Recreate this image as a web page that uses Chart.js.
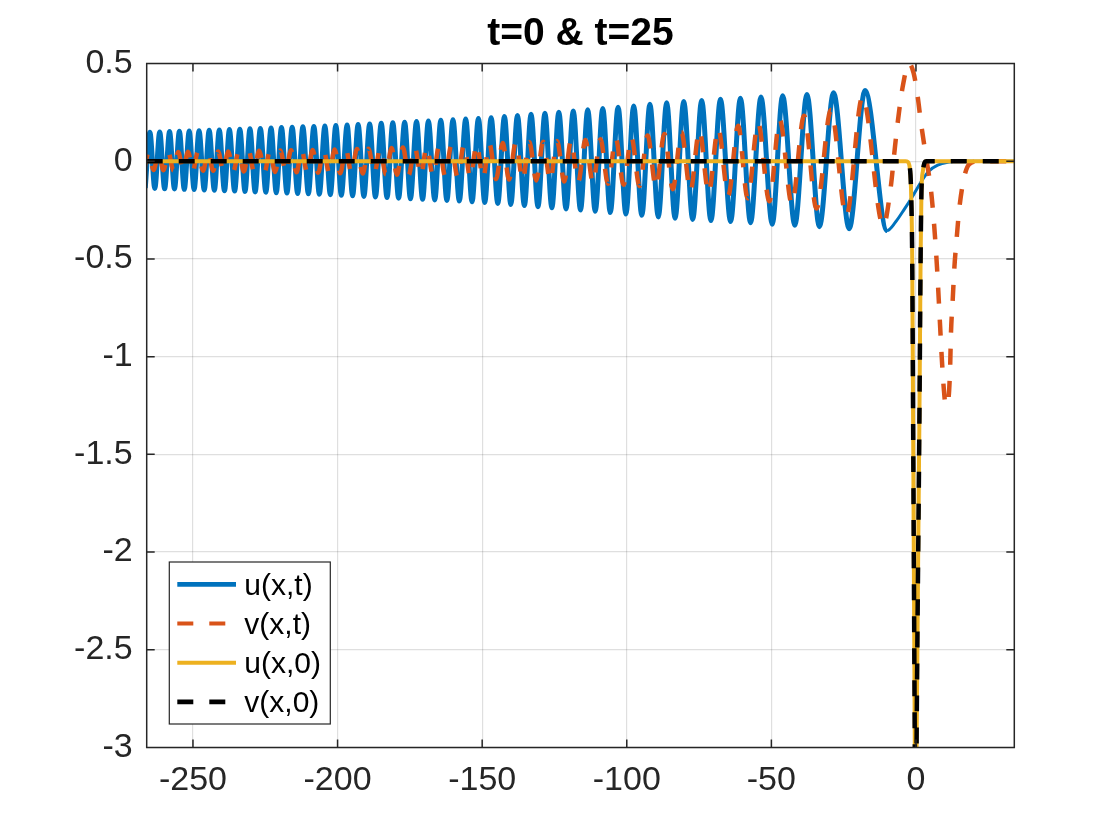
<!DOCTYPE html>
<html>
<head>
<meta charset="utf-8">
<title>t=0 &amp; t=25</title>
<script src="https://cdn.jsdelivr.net/npm/chart.js@4.4.1/dist/chart.umd.min.js"></script>
<style>
  html, body { margin: 0; padding: 0; background: #fff; }
  canvas { display: block; }
</style>
</head>
<body>
<canvas id="myChart" width="1120" height="840"></canvas>
<script>
"use strict";

// #region Data
const titleText = "t=0 & t=25";
const seriesNames = ["u(x,t)", "v(x,t)", "u(x,0)", "v(x,0)"];
const xTicks = [-250, -200, -150, -100, -50, 0];
const yTicks = [-3, -2.5, -2, -1.5, -1, -0.5, 0, 0.5];

// u(x,t): peaks / troughs of the oscillating tail, then the decaying front
const uX = [-266.5, -264.9, -263.2, -261.5, -259.8, -258.1, -256.4, -254.7, -253.0, -251.3,
  -249.6, -247.9, -246.1, -244.4, -242.6, -240.9, -239.1, -237.4, -235.6, -233.8,
  -232.0, -230.3, -228.5, -226.7, -224.8, -223.0, -221.2, -219.4, -217.5, -215.7,
  -213.8, -212.0, -210.1, -208.2, -206.3, -204.4, -202.5, -200.6, -198.7, -196.7,
  -194.8, -192.9, -190.9, -188.9, -186.9, -184.9, -182.9, -180.9, -178.9, -176.8,
  -174.8, -172.7, -170.6, -168.6, -166.4, -164.3, -162.2, -160.1, -157.9, -155.7,
  -153.5, -151.3, -149.1, -146.9, -144.6, -142.3, -140.1, -137.8, -135.4, -133.1,
  -130.7, -128.3, -125.9, -123.5, -121.0, -118.5, -116.0, -113.5, -110.9, -108.3,
  -105.7, -103.0, -100.3, -97.6, -94.8, -92.0, -89.1, -86.2, -83.3, -80.3,
  -77.2, -74.1, -70.9, -67.6, -64.1, -60.7, -57.2, -53.6, -49.7, -46.1,
  -41.9, -37.7, -33.4, -28.5, -23.1, -17.6,
  -10.0, -7, -4, -1, 2, 4.5, 7.5, 11, 15, 34];
const uY = [-0.137, 0.148, -0.139, 0.150, -0.141, 0.152, -0.142, 0.153, -0.144, 0.154,
  -0.145, 0.156, -0.147, 0.158, -0.149, 0.160, -0.151, 0.162, -0.153, 0.164,
  -0.155, 0.166, -0.157, 0.168, -0.159, 0.170, -0.161, 0.172, -0.163, 0.174,
  -0.165, 0.176, -0.167, 0.178, -0.169, 0.180, -0.171, 0.183, -0.174, 0.185,
  -0.177, 0.188, -0.180, 0.191, -0.183, 0.194, -0.186, 0.197, -0.189, 0.200,
  -0.192, 0.203, -0.195, 0.206, -0.198, 0.209, -0.201, 0.212, -0.204, 0.216,
  -0.207, 0.219, -0.211, 0.223, -0.216, 0.229, -0.221, 0.234, -0.227, 0.240,
  -0.233, 0.245, -0.238, 0.251, -0.244, 0.257, -0.250, 0.263, -0.256, 0.270,
  -0.263, 0.276, -0.270, 0.283, -0.277, 0.291, -0.285, 0.299, -0.292, 0.305,
  -0.298, 0.311, -0.304, 0.317, -0.309, 0.322, -0.315, 0.328, -0.322, 0.335,
  -0.328, 0.342, -0.335, 0.350, -0.345, 0.362,
  -0.355, -0.31, -0.245, -0.175, -0.1, -0.05, -0.02, -0.005, 0, 0];

// v(x,t)
const vX = [-266.9, -265.3, -263.6, -261.9, -260.2, -258.5, -256.8, -255.1, -253.4, -251.7,
  -250.0, -248.3, -246.5, -244.8, -243.0, -241.3, -239.5, -237.8, -236.0, -234.2,
  -232.4, -230.7, -228.9, -227.1, -225.2, -223.4, -221.6, -219.8, -217.9, -216.1,
  -214.2, -212.4, -210.5, -208.6, -206.7, -204.8, -202.9, -201.0, -199.1, -197.1,
  -195.2, -193.3, -191.3, -189.3, -187.3, -185.3, -183.3, -181.3, -179.5, -177.4,
  -175.4, -173.3, -171.2, -169.2, -167.0, -164.9, -162.8, -160.7, -158.5, -156.3,
  -154.1, -151.9, -149.7, -147.5, -145.2, -142.9, -140.7, -138.4, -136.0, -133.7,
  -131.3, -128.9, -126.5, -124.1, -121.6, -119.3, -116.8, -114.3, -111.7, -109.1,
  -106.5, -103.8, -101.1, -98.4, -95.6, -92.8, -89.9, -87.0, -84.1, -81.1,
  -78.0, -74.9, -71.7, -68.4, -64.9, -61.5, -58.2, -54.6, -50.7, -47.1,
  -42.9, -38.7, -34.4, -29.4, -24.1, -18.5,
  -11.3, -8.7, -7.5, -6.3, -4.6, -2.4, -0.8, 0.6, 1.7, 3.5, 5.2, 6.3, 7.3, 8.3,
  8.9, 9.6, 10.3, 11.2, 11.8, 12.1, 12.7, 13.3, 14.1, 15, 16.7, 18.5, 22, 34];
const vY = [-0.045, 0.045, -0.045, 0.046, -0.046, 0.046, -0.047, 0.047, -0.047, 0.048,
  -0.048, 0.048, -0.049, 0.049, -0.049, 0.050, -0.050, 0.050, -0.051, 0.051,
  -0.052, 0.052, -0.053, 0.053, -0.054, 0.054, -0.055, 0.055, -0.056, 0.056,
  -0.057, 0.057, -0.058, 0.058, -0.059, 0.059, -0.060, 0.060, -0.061, 0.061,
  -0.062, 0.062, -0.063, 0.064, -0.065, 0.066, -0.067, 0.068, -0.069, 0.070,
  -0.071, 0.072, -0.073, 0.074, -0.075, 0.076, -0.078, 0.080, -0.082, 0.084,
  -0.085, 0.087, -0.088, 0.090, -0.091, 0.093, -0.094, 0.096, -0.097, 0.098,
  -0.099, 0.100, -0.101, 0.103, -0.104, 0.106, -0.107, 0.109, -0.111, 0.113,
  -0.115, 0.117, -0.120, 0.123, -0.127, 0.131, -0.135, 0.139, -0.143, 0.148,
  -0.153, 0.158, -0.163, 0.168, -0.175, 0.182, -0.190, 0.197, -0.205, 0.212,
  -0.220, 0.232, -0.242, 0.262, -0.280, 0.330,
  -0.330, -0.13, 0.04, 0.2, 0.38, 0.5, 0.45, 0.33, 0.2, 0.02, -0.15, -0.33, -0.55, -0.83,
  -1.0, -1.16, -1.25, -1.22, -1.06, -0.88, -0.71, -0.54, -0.39, -0.24, -0.08, -0.014, 0, 0];

// u(x,0): flat with a deep narrow dip at x = 0
const u0X = [-266, -3.6, -2.9, -2.3, -1.9, -1.7, -1.3, -1.0, -0.4, -0.1, 0.2, 1.2, 1.6, 1.9, 2.4, 2.9, 3.6, 34];
const u0Y = [0, 0, -0.003, -0.02, -0.07, -0.15, -0.5, -1.3, -3.0, -3.8, -3.0, -1.3, -0.5, -0.15, -0.05, -0.01, 0, 0];
// v(x,0) lies exactly on u(x,0) in the picture
const v0X = u0X;
const v0Y = u0Y;
// #endregion

const FONT = '"Liberation Sans", Arial, Helvetica, sans-serif';
const AXIS_COLOR = "#262626";
const GRID_COLOR = "rgba(38,38,38,0.15)";

const toPoints = (xs, ys) => xs.map((x, i) => ({ x: x, y: ys[i] }));

// inward ticks on all four sides plus the box, like the original axes
const axesFrame = {
  id: "axesFrame",
  afterDatasetsDraw: function (chart) {
    const ctx = chart.ctx, a = chart.chartArea, sx = chart.scales.x, sy = chart.scales.y;
    const len = 8;
    ctx.save();
    ctx.strokeStyle = AXIS_COLOR;
    ctx.lineWidth = 1.5;
    ctx.beginPath();
    xTicks.forEach(v => {
      const px = sx.getPixelForValue(v);
      ctx.moveTo(px, a.bottom); ctx.lineTo(px, a.bottom - len);
      ctx.moveTo(px, a.top); ctx.lineTo(px, a.top + len);
    });
    yTicks.forEach(v => {
      const py = sy.getPixelForValue(v);
      ctx.moveTo(a.left, py); ctx.lineTo(a.left + len, py);
      ctx.moveTo(a.right, py); ctx.lineTo(a.right - len, py);
    });
    ctx.rect(a.left, a.top, a.right - a.left, a.bottom - a.top);
    ctx.stroke();
    ctx.restore();
  }
};

// legend box inside the axes, lower left
const axesLegend = {
  id: "axesLegend",
  afterDraw: function (chart) {
    const ctx = chart.ctx, a = chart.chartArea;
    const w = 161, h = 162, rowH = 39.2;
    const left = a.left + 22.6, top = a.bottom - 23.5 - h;
    ctx.save();
    ctx.fillStyle = "#ffffff";
    ctx.fillRect(left, top, w, h);
    ctx.strokeStyle = AXIS_COLOR;
    ctx.lineWidth = 1.2;
    ctx.strokeRect(left, top, w, h);
    chart.data.datasets.forEach((ds, i) => {
      const cy = top + 22.3 + i * rowH;
      ctx.beginPath();
      ctx.setLineDash(ds.borderDash || []);
      ctx.strokeStyle = ds.borderColor;
      ctx.lineWidth = ds.legendWidth;
      ctx.moveTo(left + 8, cy);
      ctx.lineTo(left + 66.7, cy);
      ctx.stroke();
      ctx.setLineDash([]);
      ctx.fillStyle = "#000000";
      ctx.font = "30px " + FONT;
      ctx.textBaseline = "middle";
      ctx.textAlign = "left";
      ctx.fillText(ds.label, left + 75, cy + 2);
    });
    ctx.restore();
  }
};

const tickFont = { family: FONT, size: 34 };

new Chart(document.getElementById("myChart"), {
  type: "line",
  data: {
    datasets: [{
      label: seriesNames[0],
      data: toPoints(uX, uY),
      borderColor: "#0072BD",
      borderWidth: 5,
      legendWidth: 4.7,
      segment: { borderWidth: c => (c.p1.parsed.x > -9 ? 3 : 5) },
      cubicInterpolationMode: "monotone",
      order: 4
    }, {
      label: seriesNames[1],
      data: toPoints(vX, vY),
      borderColor: "#D95319",
      borderWidth: 4.5,
      legendWidth: 4,
      borderDash: [16, 16],
      cubicInterpolationMode: "monotone",
      order: 3
    }, {
      label: seriesNames[2],
      data: toPoints(u0X, u0Y),
      borderColor: "#EDB120",
      borderWidth: 4,
      legendWidth: 4,
      cubicInterpolationMode: "monotone",
      order: 2
    }, {
      label: seriesNames[3],
      data: toPoints(v0X, v0Y),
      borderColor: "#000000",
      borderWidth: 4.5,
      legendWidth: 4.7,
      borderDash: [16, 16],
      cubicInterpolationMode: "monotone",
      order: 1
    }]
  },
  options: {
    responsive: false,
    animation: false,
    devicePixelRatio: 1,
    clip: 0,
    elements: { point: { radius: 0 }, line: { borderCapStyle: "butt" } },
    layout: { padding: { left: 0, right: 105.7, top: 0, bottom: 0 } },
    plugins: {
      legend: { display: false },
      tooltip: { enabled: false },
      title: {
        display: true,
        fullSize: false,
        text: titleText,
        color: "#000000",
        font: { family: FONT, size: 39, weight: "bold" },
        padding: { top: 11.1, bottom: 5.6 }
      }
    },
    scales: {
      x: {
        type: "linear",
        min: -266,
        max: 34,
        afterBuildTicks: s => { s.ticks = xTicks.map(v => ({ value: v })); },
        afterFit: s => { s.height = 92.5; },
        border: { display: false },
        grid: { color: GRID_COLOR, lineWidth: 1.2, drawTicks: false },
        ticks: { font: tickFont, color: AXIS_COLOR, padding: 12.5, maxRotation: 0, autoSkip: false, callback: v => String(v) }
      },
      y: {
        type: "linear",
        min: -3,
        max: 0.5,
        afterBuildTicks: s => { s.ticks = yTicks.map(v => ({ value: v })); },
        afterFit: s => { s.width = 146.7; },
        border: { display: false },
        grid: { color: GRID_COLOR, lineWidth: 1.2, drawTicks: false },
        ticks: { font: tickFont, color: AXIS_COLOR, padding: 14, autoSkip: false, callback: v => String(v) }
      }
    }
  },
  plugins: [axesFrame, axesLegend]
});
</script>
</body>
</html>
